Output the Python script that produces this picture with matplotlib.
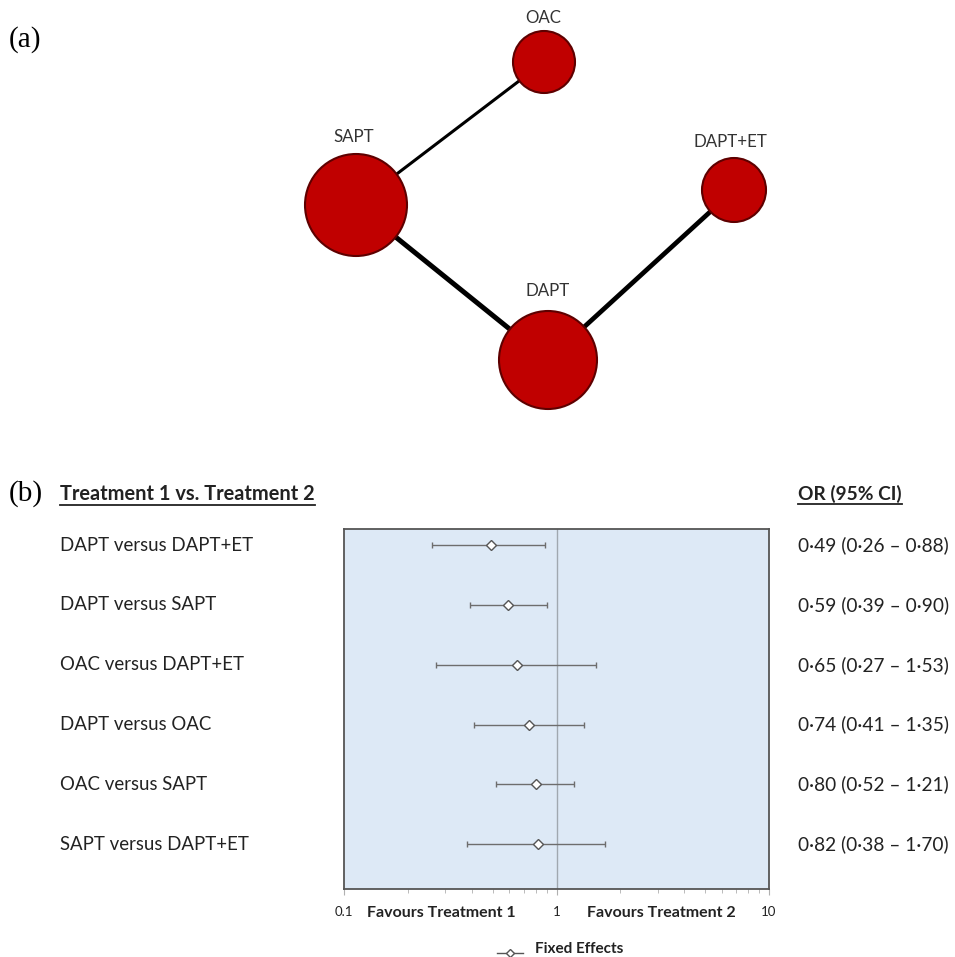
import matplotlib
matplotlib.use("Agg")
import matplotlib.pyplot as plt
import matplotlib.transforms as mtransforms
from matplotlib.patches import Circle
from matplotlib.lines import Line2D
import numpy as np

# network data
nodes = ["OAC", "SAPT", "DAPT+ET", "DAPT"]
node_radius = [31, 51, 32, 49]          # drawn size (px), proportional to patients
edges = [("SAPT", "OAC"), ("SAPT", "DAPT"), ("DAPT", "DAPT+ET")]
edge_width = [2.2, 3.6, 3.4]            # line width, proportional to number of trials

# forest plot data
comparisons = ["DAPT versus DAPT+ET", "DAPT versus SAPT", "OAC versus DAPT+ET",
               "DAPT versus OAC", "OAC versus SAPT", "SAPT versus DAPT+ET"]
odds_ratio = [0.49, 0.59, 0.65, 0.74, 0.80, 0.82]
ci_low = [0.26, 0.39, 0.27, 0.41, 0.52, 0.38]
ci_high = [0.88, 0.90, 1.53, 1.35, 1.21, 1.70]

W, H = 955, 957
fig = plt.figure(figsize=(W / 100, H / 100), dpi=100)

FONT = "Lato"
SERIF = "Liberation Serif"

# ---- (a) network, drawn in a full-figure pixel axes ----
net = fig.add_axes([0, 0, 1, 1])
net.set_xlim(0, W)
net.set_ylim(H, 0)
net.set_aspect("equal")
net.axis("off")

pos = {"OAC": (544, 62), "SAPT": (356, 205), "DAPT+ET": (734, 190), "DAPT": (548, 360)}
label_pos = {"OAC": (543, 18), "SAPT": (354, 137), "DAPT+ET": (730, 142), "DAPT": (548, 291)}

for (a, b), lw in zip(edges, edge_width):
    net.plot([pos[a][0], pos[b][0]], [pos[a][1], pos[b][1]], color="black", lw=lw,
             solid_capstyle="butt", zorder=1)

for name, r in zip(nodes, node_radius):
    net.add_patch(Circle(pos[name], r, facecolor="#c00000", edgecolor="#5e0000",
                         lw=1.5, zorder=2))
    net.text(*label_pos[name], name, ha="center", va="center", fontsize=12.2,
             family=FONT, color="#333333")

net.text(9, 40, "(a)", fontsize=21, family=SERIF, ha="left", va="center")
net.text(9, 494, "(b)", fontsize=21, family=SERIF, ha="left", va="center")

# ---- (b) forest plot ----
ax = fig.add_axes([344 / W, (H - 889) / H, 425 / W, 360 / H])
ax.set_facecolor("#dde9f6")
ax.set_xscale("log")
ax.set_xlim(0.1, 10)
n = len(comparisons)
y = np.arange(n)
ax.set_ylim(5.75, -0.27)
ax.set_yticks([])
for s in ax.spines.values():
    s.set_color("#555555")
    s.set_linewidth(1.3)

ax.axvline(1, color="#a0a8b0", lw=1, zorder=1)
ax.errorbar(odds_ratio, y,
            xerr=[np.array(odds_ratio) - np.array(ci_low), np.array(ci_high) - np.array(odds_ratio)],
            fmt="D", mfc="white", mec="#555555", mew=1, ms=5.5, ecolor="#6d6d6d",
            elinewidth=1, capsize=2.5, capthick=1, color="#6d6d6d", zorder=3)

ax.set_xticks([0.1, 1, 10])
ax.set_xticklabels(["0.1", "1", "10"])
ax.tick_params(axis="x", which="both", direction="out", colors="#b0b0b0", labelcolor="#222222",
               labelsize=9.5, length=4, pad=8)
ax.tick_params(axis="x", which="minor", length=3)
for t in ax.get_xticklabels():
    t.set_family(FONT)

ax.text(0.23, -0.068, "Favours Treatment 1", transform=ax.transAxes, ha="center", va="center",
        fontsize=11.5, fontweight="bold", family=FONT, color="#222222")
ax.text(0.746, -0.068, "Favours Treatment 2", transform=ax.transAxes, ha="center", va="center",
        fontsize=11.5, fontweight="bold", family=FONT, color="#222222")

trans = mtransforms.blended_transform_factory(fig.transFigure, ax.transData)
for yi, lab, o, lo, hi in zip(y, comparisons, odds_ratio, ci_low, ci_high):
    fig.text(60 / W, yi, lab, transform=trans, ha="left", va="center", fontsize=13.4,
             family=FONT, color="#222222")
    txt = f"{o:.2f} ({lo:.2f} \u2013 {hi:.2f})".replace(".", "\u00b7")
    fig.text(798 / W, yi, txt, transform=trans, ha="left", va="center", fontsize=13.8,
             family=FONT, color="#222222")

# underlined headers
headers = [(60, "Treatment 1 vs. Treatment 2", 14.4), (798, "OR (95% CI)", 13.8)]
renderer = fig.canvas.get_renderer()
for x0, h, fs in headers:
    t = fig.text(x0 / W, 1 - 494 / H, h, ha="left", va="center", fontsize=fs,
                 fontweight="bold", family=FONT, color="#222222")
    bb = t.get_window_extent(renderer)
    yline = (bb.y0 - 1) / H
    fig.add_artist(Line2D([bb.x0 / W, bb.x1 / W], [yline, yline], color="#222222", lw=1.3))

# legend
fig.add_artist(Line2D([497 / W, 523 / W], [1 - 953 / H] * 2, color="#555555", lw=1))
fig.add_artist(Line2D([510 / W], [1 - 953 / H], marker="D", ms=4, mfc="white",
                      mec="#555555", mew=1))
fig.text(535 / W, 1 - 949 / H, "Fixed Effects", ha="left", va="center", fontsize=11,
         fontweight="bold", family=FONT, color="#222222")

fig.savefig("out.png", dpi=100)
